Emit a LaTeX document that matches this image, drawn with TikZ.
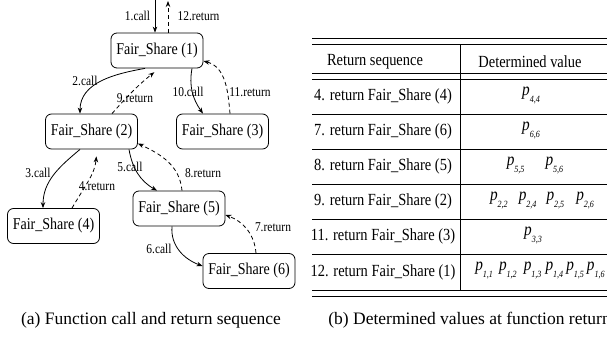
\documentclass[tikz,border=0pt]{standalone}
\usepackage{fontspec}
\setmainfont{Liberation Serif}
\newfontfamily\figfont[FakeStretch=0.85]{Liberation Serif}
\usetikzlibrary{arrows.meta}
\newcommand{\pval}[2]{\textit{p}\raisebox{-7pt}{\fontsize{9.5}{9.5}\selectfont\textit{#1,#2}}}

\begin{document}
\begin{tikzpicture}[>={Stealth[length=6pt,width=4.5pt]},x=1pt,y=1pt,line width=0.8pt,
  fs/.style={draw,rounded corners=6pt,minimum width=92pt,minimum height=35pt,inner sep=1pt,
    font=\figfont\fontsize{16.5}{18}\selectfont},
  lbl/.style={inner sep=1pt,font=\figfont\fontsize{13.5}{15}\selectfont},
  ret/.style={->,dash pattern=on 4pt off 3pt},
  cell/.style={inner sep=0pt,font=\figfont\fontsize{17}{19}\selectfont},
  vcell/.style={inner sep=0pt,font=\figfont\fontsize{18}{19}\selectfont},
  rule/.style={line width=0.9pt}]
  \useasboundingbox (0,0) rectangle (607,341);
  % (a) call tree
  \coordinate (cin) at (155,341);
  \coordinate (cout) at (168,340);
  \node[fs] (f1) at (157,290.5) {Fair\_Share (1)};
  \node[fs] (f2) at (91.5,209.5) {Fair\_Share (2)};
  \node[fs] (f3) at (222.5,209.5) {Fair\_Share (3)};
  \node[fs] (f4) at (53.5,115) {Fair\_Share (4)};
  \node[fs] (f5) at (179,132.5) {Fair\_Share (5)};
  \node[fs] (f6) at (249,70) {Fair\_Share (6)};
  % calls
  \draw[->] (cin) -- (cin |- f1.north);
  \draw[->] ([xshift=-12pt]f1.south) to[out=190,in=90] ([xshift=-11.5pt]f2.north);
  \draw[->] ([xshift=-11.5pt]f2.south) to[out=220,in=90] ([xshift=-10.5pt]f4.north);
  \draw[->] ([xshift=37.5pt]f2.south) to[out=-80,in=150] ([xshift=-22pt]f5.north);
  \draw[->] ([xshift=-7pt]f5.south) to[out=-95,in=160] ([yshift=5pt]f6.west);
  \draw[->] ([xshift=35pt]f1.south) to[out=-100,in=125] ([xshift=-19.5pt]f3.north);
  % returns
  \draw[ret,shorten >=7pt] ([xshift=18.5pt]f4.north) to[out=60,in=-95] ([xshift=5.5pt]f2.south);
  \draw[ret] ([xshift=7pt]f6.north) to[out=95,in=-20] ([yshift=-6.5pt]f5.east);
  \draw[ret] ([xshift=3pt]f5.north) to[out=95,in=-25] ([yshift=-12pt]f2.east);
  \draw[ret,shorten >=6pt] ([xshift=20.5pt]f2.north) to[bend left=5] ([xshift=2pt]f1.south);
  \draw[ret] ([xshift=7.5pt]f3.north) to[out=95,in=-15] ([yshift=-10.5pt]f1.east);
  \draw[ret] (cout |- f1.north) -- (cout);
  % labels
  \node[lbl] (l1) at (137.5,325) {1.call};
  \node[lbl] (l12) at (198.5,325) {12.return};
  \node[lbl] (l2) at (85,260) {2.call};
  \node[lbl] (l9) at (135,243) {9.return};
  \node[lbl] (l10) at (188,249) {10.call};
  \node[lbl] (l11) at (250,249) {11.return};
  \node[lbl] (l3) at (38,168) {3.call};
  \node[lbl] (l4) at (97,155) {4.return};
  \node[lbl] (l5) at (130,174) {5.call};
  \node[lbl] (l8) at (203,168) {8.return};
  \node[lbl] (l6) at (159,92) {6.call};
  \node[lbl] (l7) at (273,114) {7.return};
  % (b) table
  \foreach \yy in {303,297,268,262,51,45}
    \draw[rule] (312,\yy) -- (607,\yy);
  \foreach \yy in {227,192,157,122,87}
    \draw[rule] (312,\yy) -- (607,\yy);
  \draw[rule] (460,297) -- (460,51);
  \node[cell] (h1) at (375,279) {Return sequence};
  \node[cell] (h2) at (530,279) {Determined value};
  \node[cell] (r4) at (383,244.5) {4. return Fair\_Share (4)};
  \node[cell] (r7) at (383,209.5) {7. return Fair\_Share (6)};
  \node[cell] (r8) at (383,174.5) {8. return Fair\_Share (5)};
  \node[cell] (r9) at (383,139.5) {9. return Fair\_Share (2)};
  \node[cell] (r11) at (383,104.5) {11. return Fair\_Share (3)};
  \node[cell] (r12) at (383,69) {12. return Fair\_Share (1)};
  \node[vcell] (v4) at (531,246) {\pval{4}{4}};
  \node[vcell] (v7) at (531,211) {\pval{6}{6}};
  \node[vcell] (v8) at (535,176) {\pval{5}{5}\hspace{21pt}\pval{5}{6}};
  \node[vcell] (v9) at (542,141) {\pval{2}{2}\hspace{11pt}\pval{2}{4}\hspace{10pt}\pval{2}{5}\hspace{12pt}\pval{2}{6}};
  \node[vcell] (v11) at (533,106) {\pval{3}{3}};
  \node[vcell] (v12) at (540,70.5) {\pval{1}{1}\hspace{6pt}\pval{1}{2}\hspace{7pt}\pval{1}{3}\hspace{4pt}\pval{1}{4}\hspace{3pt}\pval{1}{5}\hspace{3pt}\pval{1}{6}};
  % captions
  \node[font=\fontsize{17.5}{19}\selectfont,inner sep=0pt] (capa) at (151,21) {(a) Function call and return sequence};
  \node[font=\fontsize{17.5}{19}\selectfont,inner sep=0pt,anchor=west] (capb) at (328,21) {(b) Determined values at function return};
\end{tikzpicture}
\end{document}
